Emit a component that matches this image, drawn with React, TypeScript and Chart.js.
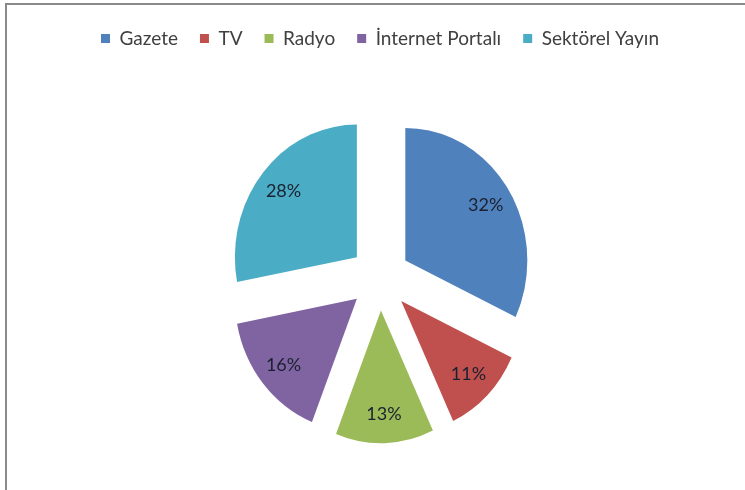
import React, { useEffect, useRef } from "react";
import { Chart, registerables, ArcElement } from "chart.js";

Chart.register(...registerables);

const categories = ["Gazete", "TV", "Radyo", "İnternet Portalı", "Sektörel Yayın"];
const shares = [32, 11, 13, 16, 28];
const sliceColors = ["#4F81BD", "#C0504D", "#9BBB59", "#8064A2", "#4BACC6"];

const Y_STRETCH = 1.087;
const LABEL_RATIO = 0.78;

// Arc element that pulls each slice out by its full offset, with no size correction
class ExplodedArc extends (ArcElement as any) {
  static id = "explodedArc";
  draw(ctx: CanvasRenderingContext2D) {
    const self: any = this;
    const { x, y, startAngle, endAngle, outerRadius } = self.getProps(
      ["x", "y", "startAngle", "endAngle", "outerRadius"],
      false
    );
    const opts = self.options;
    const off = opts.offset || 0;
    const mid = (startAngle + endAngle) / 2;
    ctx.save();
    ctx.translate(Math.cos(mid) * off, Math.sin(mid) * off);
    ctx.beginPath();
    ctx.moveTo(x, y);
    ctx.arc(x, y, outerRadius, startAngle, endAngle);
    ctx.closePath();
    ctx.fillStyle = opts.backgroundColor;
    ctx.fill();
    ctx.restore();
  }
}
Chart.register(ExplodedArc as any);
(Chart.defaults as any).datasets.pie.dataElementType = "explodedArc";

const ellipsePlugin = {
  id: "ellipsePie",
  beforeDatasetsDraw(chart: any) {
    const meta = chart.getDatasetMeta(0);
    const arc = meta.data[0];
    const cy = arc ? arc.y : 0;
    const ctx = chart.ctx;
    ctx.save();
    ctx.translate(0, cy);
    ctx.scale(1, Y_STRETCH);
    ctx.translate(0, -cy);
  },
  afterDatasetsDraw(chart: any) {
    const ctx = chart.ctx;
    ctx.restore();
    const meta = chart.getDatasetMeta(0);
    const data = chart.data.datasets[0].data as number[];
    ctx.save();
    ctx.font = "18px Lato";
    ctx.fillStyle = "#1b2030";
    ctx.textAlign = "center";
    ctx.textBaseline = "middle";
    meta.data.forEach((arc: any, i: number) => {
      const p = arc.getProps(["startAngle", "endAngle", "x", "y", "outerRadius"], true);
      const off = arc.options.offset || 0;
      const mid = (p.startAngle + p.endAngle) / 2;
      const d = off + p.outerRadius * LABEL_RATIO;
      const x = p.x + Math.cos(mid) * d;
      const y = p.y + Math.sin(mid) * d * Y_STRETCH;
      ctx.fillText(data[i] + "%", x, y);
    });
    ctx.restore();
  },
};

export default function App() {
  const ref = useRef<HTMLCanvasElement | null>(null);

  useEffect(() => {
    document.body.style.margin = "0";
    document.body.style.background = "#ffffff";
    const canvas = ref.current;
    if (!canvas) return;
    const chart = new Chart(canvas, {
      type: "pie",
      data: {
        labels: categories,
        datasets: [
          {
            data: shares,
            backgroundColor: sliceColors,
            borderWidth: 0,
            offset: 30,
            radius: 122,
            clip: false,
          } as any,
        ],
      },
      options: {
        responsive: false,
        animation: false,
        devicePixelRatio: 1,
        layout: { padding: { left: 21, right: 6, top: 7, bottom: 0 } },
        plugins: {
          legend: {
            position: "top",
            labels: {
              boxWidth: 9,
              boxHeight: 9,
              padding: 22,
              color: "#404040",
              font: { family: "Lato", size: 19 },
            },
          },
          tooltip: { enabled: false },
        },
      },
      plugins: [ellipsePlugin],
    });
    return () => chart.destroy();
  }, []);

  return (
    <div style={{ position: "absolute", left: 0, top: 0, width: 745, height: 490, overflow: "hidden", background: "#fff" }}>
      <div
        style={{
          position: "absolute",
          left: 5,
          top: 3,
          width: 900,
          height: 700,
          border: "2px solid #8a8a8a",
          boxSizing: "border-box",
        }}
      />
      <canvas ref={ref} width={745} height={498} style={{ position: "absolute", left: 0, top: 0 }} />
    </div>
  );
}
